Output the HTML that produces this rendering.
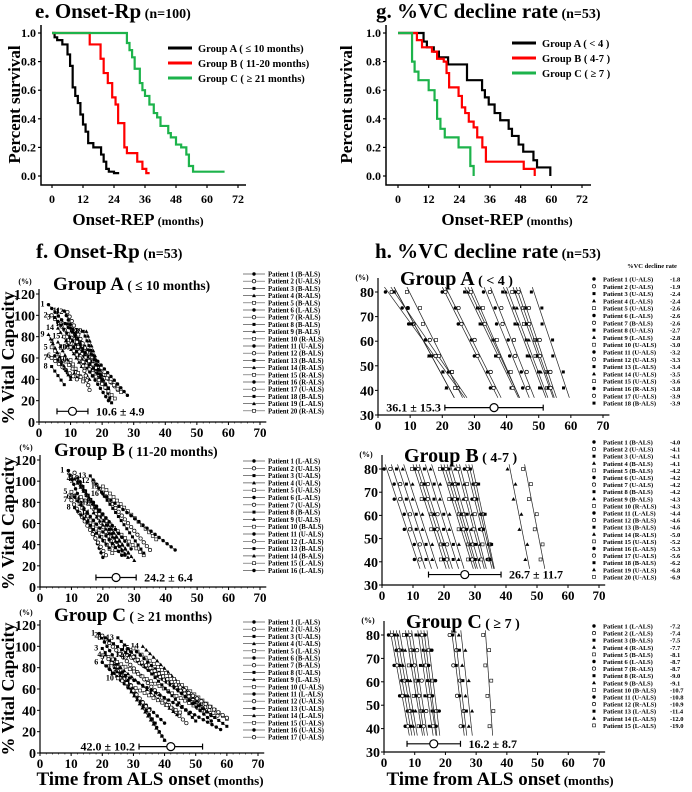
<!DOCTYPE html>
<html><head><meta charset="utf-8"><style>
html,body{margin:0;padding:0;background:#fff}
svg{display:block;font-family:"Liberation Serif",serif;font-weight:bold}
</style></head><body>
<svg id="fig" width="692" height="792" viewBox="0 0 692 792" xmlns="http://www.w3.org/2000/svg"></svg>
<script>
// ---- Survival data (e) ----
const eATimes=[0,1,2,4,6,7,8,9,10,11,12,13,14,16,19,20,21,22,24,26];
const eASurv=[1,.97,.95,.92,.85,.77,.62,.56,.51,.43,.36,.31,.23,.20,.15,.10,.05,.03,.02,.02];
const eBTimes=[0,14.6,18.8,20,21.6,23.3,24.6,25.6,28,29,33,35,36.5,37.8];
const eBSurv=[1,.92,.82,.72,.65,.55,.5,.37,.2,.16,.1,.05,.02,.02];
const eCTimes=[0,29,30,31,32,34,35,36,37.7,39.4,40.7,42,45,46,48,50,52,53,54.6,59,66.8];
const eCSurv=[1,.93,.88,.83,.75,.65,.6,.56,.5,.44,.41,.35,.3,.27,.22,.2,.15,.07,.03,.03,.03];
// ---- Survival data (g) ----
const gATimes=[0,10,11.3,14,16,19.6,27,32.9,34,35.5,37.8,40,43.3,44.6,47.2,49,53,54.4,59.6];
const gASurv=[1,.94,.9,.87,.83,.78,.67,.6,.55,.5,.44,.39,.33,.28,.22,.17,.11,.06,0];
const gBTimes=[0,7.4,9.4,13.3,15.3,17.9,19,20,23.7,25,26.3,27.7,29.6,31,33,34.4,49.2,53.5];
const gBSurv=[1,.95,.9,.87,.82,.8,.72,.62,.56,.48,.44,.38,.34,.27,.2,.1,.05,0];
const gCTimes=[0,5.5,6.5,8,12,14.3,15.3,16.6,18.3,23.7,28.3,29.6];
const gCSurv=[1,.8,.73,.67,.6,.53,.4,.33,.27,.2,.07,0];
const survTicksX=[0,12,24,36,48,60,72];
const survTicksY=[0,0.2,0.4,0.6,0.8,1.0];
// ---- f panels: patient start/end ----
const fASX=[3,4,5,6,4,5,4,4,3,10,8,9,9,6,8,11,12,14,15,10];
const fASY=[110,100,98,75,70,62,60,52,82,58,104,103,92,88,80,70,75,85,85,70];
const fAEX=[28,25,22,12,14,10,12,8,10,14,17,20,22,16,26,22,16,23,21,24];
const fAEY=[25,30,32,42,40,42,40,35,40,38,45,36,30,40,28,20,30,18,35,22];
const fATypes=["B","U","B","R","B","L","R","B","B","R","U","B","B","R","R","R","U","B","L","R"];
const fBSX=[9,11,12,11,10,11,10,11,12,13,17,17,16,17,20,20];
const fBSY=[110,108,103,102,90,85,82,75,100,85,80,100,105,70,95,88];
const fBEX=[20,24,27,30,23,26,21,22,28,33,29,35,33,28,37,43];
const fBEY=[28,35,30,25,32,30,30,37,32,30,36,35,32,28,45,35];
const fBTypes=["L","U","U","U","U","L","U","B","U","B","U","L","B","B","L","L"];
const fCSX=[19,20,20,21,22,20,22,21,24,25,26,28,25,33,30,31,30];
const fCSY=[112,110,98,92,90,85,88,108,80,70,75,92,108,100,98,95,90];
const fCEX=[40,47,37,44,52,40,35,60,40,45,58,57,50,55,60,55,60];
const fCEY=[12,28,28,36,40,28,40,25,12,38,22,35,30,35,32,30,33];
const fCTypes=["L","U","U","U","L","B","B","U","L","U","L","U","U","L","U","U","U"];
const fTicksX=[0,10,20,30,40,50,60,70];
const fTicksY=[0,20,40,60,80,100,120];
// ---- h panels: regression start month & decline rate ----
const hAStart=[2,4,5,5,9,20,21,27,28,29,33,35,39,40,42,43,44,48];
const hARate=[-1.8,-1.9,-2.4,-2.4,-2.6,-2.6,-2.6,-2.7,-2.8,-3.0,-3.2,-3.3,-3.4,-3.5,-3.6,-3.8,-3.9,-3.9];
const hATypes=["U","U","U","L","U","L","B","U","L","U","U","U","L","U","U","R","U","B"];
const hBStart=[1,3,5,7,10,11,12,14,16,19,20,21,22,24,25,27,28,29,41,46];
const hBRate=[-4.0,-4.1,-4.1,-4.1,-4.2,-4.2,-4.2,-4.2,-4.3,-4.3,-4.4,-4.6,-4.6,-5.0,-5.2,-5.3,-5.6,-6.2,-6.8,-6.9];
const hBTypes=["B","U","U","B","B","U","U","B","B","R","L","B","B","R","U","L","U","B","U","U"];
const hCStart=[2,3,4,5,7,8,9,11,12,13,14,22,23,25,33];
const hCRate=[-7.2,-7.4,-7.5,-7.7,-8.1,-8.7,-8.7,-9.0,-9.1,-10.7,-10.8,-10.9,-11.4,-12.0,-19.0];
const hCTypes=["L","L","B","R","B","L","R","R","B","B","U","R","L","L","L"];
const hTicksY=[30,40,50,60,70,80];
// mean ± sd
const errMean=[10.6,24.2,42.0,36.1,26.7,16.2];
const errSD=[4.9,6.4,10.2,15.3,11.7,8.7];

const NS="http://www.w3.org/2000/svg";
const svg=document.getElementById('fig');
function mk(tag,attrs,parent){const e=document.createElementNS(NS,tag);for(const k in attrs)e.setAttribute(k,attrs[k]);(parent||svg).appendChild(e);return e;}
function txt(x,y,s,size,anchor,parent,name){const t=mk('text',{x:x,y:y,'font-size':size,'text-anchor':anchor||'start'},parent);t.textContent=s;


return t;}
function lin(a,b,d,r){return v=>r[0]+(v-a)/(b-a)*(r[1]-r[0]);}

function survPanel(o){
  const g=mk('g',{});
  
  
  const X=lin(0,72,0,[o.x0,o.x72]),Y=lin(0,1,0,[o.y0,o.y1]);
  mk('path',{d:`M${o.ax},${o.y1-8}V${o.axY}H${o.axEnd}`,stroke:'#000','stroke-width':1.5,fill:'none'},g);
  survTicksX.forEach(t=>{mk('line',{x1:X(t),x2:X(t),y1:o.axY,y2:o.axY+3,stroke:'#000','stroke-width':1.2},g);txt(X(t),o.axY+18,String(t),12,'middle',g,'x-tick-label');});
  survTicksY.forEach(t=>{mk('line',{x1:o.ax-3,x2:o.ax,y1:Y(t),y2:Y(t),stroke:'#000','stroke-width':1.2},g);txt(o.ax-5,Y(t)+4,t.toFixed(1),12,'end',g,'y-tick-label');});
  o.series.forEach(s=>{
    let d=`M${X(s.t[0])},${Y(s.s[0])}`;
    for(let i=1;i<s.t.length;i++){d+=`H${X(s.t[i])}V${Y(s.s[i])}`;}
    const p=mk('path',{d:d,stroke:s.c,'stroke-width':2.2,fill:'none'},g);
    
    
  });
  o.legend.forEach((l,i)=>{
    const yy=o.ly+i*15;
    mk('line',{x1:o.lx,x2:o.lx+24,y1:yy,y2:yy,stroke:l[1],'stroke-width':3},g);
    txt(o.lx+30,yy+4,l[0],10.5,'start',g,'legend-entry');
  });
  const yl=txt(0,0,'Percent survival',17,'middle',g,'y-axis-title');yl.setAttribute('transform',`translate(${o.ylx},${(o.y0+o.y1)/2}) rotate(-90)`);
  const xl=txt(o.xlx,o.axY+40,'Onset-REP',17,'middle',g,'x-axis-title');
  const sp=mk('tspan',{'font-size':12},xl);sp.textContent=' (months)';
}

survPanel({name:'panel-e',x0:52,x72:238,y0:176,y1:33,ax:41,axY:185,axEnd:246,ylx:20,xlx:138,lx:168,ly:48,
 series:[{t:eATimes,s:eASurv,c:'#000',n:'curve-group-a'},{t:eBTimes,s:eBSurv,c:'#f00',n:'curve-group-b'},{t:eCTimes,s:eCSurv,c:'#1db34b',n:'curve-group-c'}],
 legend:[['Group A ( ≤ 10 months)','#000'],['Group B ( 11-20 months)','#f00'],['Group C ( ≥ 21 months)','#1db34b']]});
survPanel({name:'panel-g',x0:398,x72:582,y0:176,y1:33,ax:386,axY:185,axEnd:591,ylx:352,xlx:507,lx:512,ly:43,
 series:[{t:gATimes,s:gASurv,c:'#000',n:'curve-group-a'},{t:gBTimes,s:gBSurv,c:'#f00',n:'curve-group-b'},{t:gCTimes,s:gCSurv,c:'#1db34b',n:'curve-group-c'}],
 legend:[['Group A ( < 4 )','#000'],['Group B ( 4-7 )','#f00'],['Group C ( ≥ 7 )','#1db34b']]});

function title(x,y,a,b,name){const t=txt(x,y,a,21,'start',svg,name);const s=mk('tspan',{'font-size':14},t);s.textContent=b;}
title(35,18,'e. Onset-Rp','  (n=100)','title-e');
title(376,18,'g. %VC decline rate','  (n=53)','title-g');
title(36,258,'f. Onset-Rp','  (n=53)','title-f');
title(375,258,'h. %VC decline rate','  (n=53)','title-h');

function marker(g,x,y,k){
  const m=k%5;
  if(m===0)mk('circle',{cx:x,cy:y,r:1.7,fill:'#000'},g);
  else if(m===1)mk('circle',{cx:x,cy:y,r:1.7,fill:'#fff',stroke:'#000','stroke-width':0.7},g);
  else if(m===2)mk('rect',{x:x-1.5,y:y-1.5,width:3,height:3,fill:'#000'},g);
  else if(m===3)mk('path',{d:`M${x},${y-2}L${x+2},${y+1.5}L${x-2},${y+1.5}Z`,fill:'#000'},g);
  else mk('rect',{x:x-1.5,y:y-1.5,width:3,height:3,fill:'#fff',stroke:'#000','stroke-width':0.6},g);
}

function axesBL(g,X,Y,yB,yT,ticksY){
  mk('path',{d:`M${X(0)},${yT-5}V${yB}H${X(72)}`,stroke:'#000','stroke-width':1.2,fill:'none'},g);
  fTicksX.forEach(t=>{mk('line',{x1:X(t),x2:X(t),y1:yB,y2:yB+3,stroke:'#000','stroke-width':1},g);txt(X(t),yB+15,String(t),13,'middle',g,'x-tick-label');});
  for(let t=0;t<=70;t+=2){mk('line',{x1:X(t),x2:X(t),y1:yB,y2:yB+1.5,stroke:'#000','stroke-width':0.6},g);}
  ticksY.forEach(t=>{mk('line',{x1:X(0)-3,x2:X(0),y1:Y(t),y2:Y(t),stroke:'#000','stroke-width':1},g);txt(X(0)-4,Y(t)+5,String(t),14,'end',g,'y-tick-label');});
  txt(X(0)-14,yT-10,'(%)',8,'middle',g,'y-unit');
}
function errbar(g,X,y,i,labelLeft){
  const m=errMean[i],s=errSD[i];
  mk('line',{x1:X(m-s),x2:X(m+s),y1:y,y2:y,stroke:'#000','stroke-width':1.2},g);
  mk('line',{x1:X(m-s),x2:X(m-s),y1:y-3,y2:y+3,stroke:'#000','stroke-width':1.2},g);
  mk('line',{x1:X(m+s),x2:X(m+s),y1:y-3,y2:y+3,stroke:'#000','stroke-width':1.2},g);
  mk('circle',{cx:X(m),cy:y,r:4,fill:'#fff',stroke:'#000','stroke-width':1.2},g);
  if(labelLeft)txt(X(m-s)-4,y+4,m.toFixed(1)+' ± '+s.toFixed(1),12,'end',g,'mean-sd-label');
  else txt(X(m+s)+8,y+4,m.toFixed(1)+' ± '+s.toFixed(1),12,'start',g,'mean-sd-label');
}

function fPanel(o){
  const g=mk('g',{});
  
  
  const X=lin(0,70,0,[o.x0,o.x70]),Y=lin(0,120,0,[o.yB,o.yT]);
  axesBL(g,X,Y,o.yB,o.yT,fTicksY);
  o.sx.forEach((sx,i)=>{
    const p=mk('line',{x1:X(sx),y1:Y(o.sy[i]),x2:X(o.ex[i]),y2:Y(o.ey[i]),stroke:'#444','stroke-width':0.7},g);
    
    
    const L=Math.hypot(X(o.ex[i])-X(sx),Y(o.ey[i])-Y(o.sy[i]));const n=Math.max(3,Math.round(L/5));
    for(let k=0;k<=n;k++){const f=k/n;marker(g,X(sx+(o.ex[i]-sx)*f),Y(o.sy[i]+(o.ey[i]-o.sy[i])*f),i);}
    txt(X(sx)-4,Y(o.sy[i])+2,String(i+1),8,'end',g,'patient-number');
  });
  const gt=txt(X(0)+14,o.yT-4,o.gname,19,'start',g,'group-title');const s=mk('tspan',{'font-size':13.5},gt);s.textContent=' '+o.gsub;
  o.types.forEach((t,i)=>{const yy=o.ly+i*o.lstep;
    mk('line',{x1:243,x2:265,y1:yy,y2:yy,stroke:'#555','stroke-width':0.7},g);marker(g,254,yy,i);
    txt(268,yy+2.5,'Patient '+(i+1)+'  ('+t+'-ALS)',6.8,'start',g,'legend-entry');});
  errbar(g,X,Y(o.ey0),o.ei,o.ei===2);
  const yl=txt(0,0,'% Vital Capacity',18,'middle',g,'y-axis-title');yl.setAttribute('transform',`translate(14,${(o.yB+o.yT)/2}) rotate(-90)`);
}
fPanel({name:'panel-f-group-a',x0:39,x70:260,yB:422,yT:294,sx:fASX,sy:fASY,ex:fAEX,ey:fAEY,types:fATypes,ly:274,lstep:7.2,gname:'Group A',gsub:'( ≤ 10 months)',ei:0,ey0:10});
fPanel({name:'panel-f-group-b',x0:40,x70:260,yB:587,yT:460,sx:fBSX,sy:fBSY,ex:fBEX,ey:fBEY,types:fBTypes,ly:461,lstep:7.3,gname:'Group B',gsub:'( 11-20 months)',ei:1,ey0:9});
fPanel({name:'panel-f-group-c',x0:40,x70:258,yB:753,yT:625,sx:fCSX,sy:fCSY,ex:fCEX,ey:fCEY,types:fCTypes,ly:622,lstep:7.2,gname:'Group C',gsub:'( ≥ 21 months)',ei:2,ey0:6});

function hPanel(o){
  const g=mk('g',{});
  
  
  const X=lin(0,70,0,[o.x0,o.x70]),Y=lin(30,80,0,[o.yB,o.yT]);
  mk('path',{d:`M${X(0)},${o.yT-14}V${o.yB}H${X(72)}`,stroke:'#000','stroke-width':1.2,fill:'none'},g);
  fTicksX.forEach(t=>{mk('line',{x1:X(t),x2:X(t),y1:o.yB,y2:o.yB+3,stroke:'#000','stroke-width':1},g);txt(X(t),o.yB+15,String(t),13,'middle',g,'x-tick-label');});
  hTicksY.forEach(t=>{mk('line',{x1:X(0)-3,x2:X(0),y1:Y(t),y2:Y(t),stroke:'#000','stroke-width':1},g);txt(X(0)-4,Y(t)+5,String(t),14,'end',g,'y-tick-label');});
  txt(X(0)-16,o.yT-12,'(%)',8,'middle',g,'y-unit');
  o.st.forEach((s,i)=>{
    const r=o.rate[i],y1=82,y2=37,x2=s+(y2-y1)/r;
    const p=mk('line',{x1:X(s),y1:Y(y1),x2:X(x2),y2:Y(y2),stroke:'#222','stroke-width':0.7},g);
    
    
    for(let k=0;k<7;k++){const yy=y1-2-k*6.5;const xx=s+(yy-y1)/r+((k%2)?0.8:-0.8);marker(g,X(xx),Y(yy),i);}
  });
  const gt=txt(X(0)+22,o.yT-7,o.gname,20,'start',g,'group-title');const s=mk('tspan',{'font-size':14},gt);s.textContent=' '+o.gsub;
  o.types.forEach((t,i)=>{const yy=o.ly+i*o.lstep;marker(g,594,yy,i);
    txt(603,yy+2.5,'Patient '+(i+1)+'  ('+t+'-ALS)',6.5,'start',g,'legend-entry');
    txt(670,yy+2.5,o.rate[i].toFixed(1),6.5,'start',g,'legend-rate');});
  errbar(g,X,Y(o.ey0),o.ei,o.left);
}
txt(652,268,'%VC decline rate',6.5,'middle',svg,'legend-header');
hPanel({name:'panel-h-group-a',x0:378,x70:603,yB:415,yT:292,st:hAStart,rate:hARate,types:hATypes,ly:279,lstep:7.3,gname:'Group A',gsub:'( < 4 )',ei:3,ey0:33,left:true});
hPanel({name:'panel-h-group-b',x0:382,x70:599,yB:585,yT:469,st:hBStart,rate:hBRate,types:hBTypes,ly:442,lstep:7.1,gname:'Group B',gsub:'( 4-7 )',ei:4,ey0:34.5,left:false});
hPanel({name:'panel-h-group-c',x0:384,x70:599,yB:752,yT:635,st:hCStart,rate:hCRate,types:hCTypes,ly:626,lstep:7.1,gname:'Group C',gsub:'( ≥ 7 )',ei:5,ey0:33.5,left:false});

function xTitle(x,name){const t=txt(x,785,'Time from ALS onset',19,'middle',svg,name);const s=mk('tspan',{'font-size':13},t);s.textContent=' (months)';}
xTitle(150,'x-axis-title-f');xTitle(500,'x-axis-title-h');
</script>
</body></html>
